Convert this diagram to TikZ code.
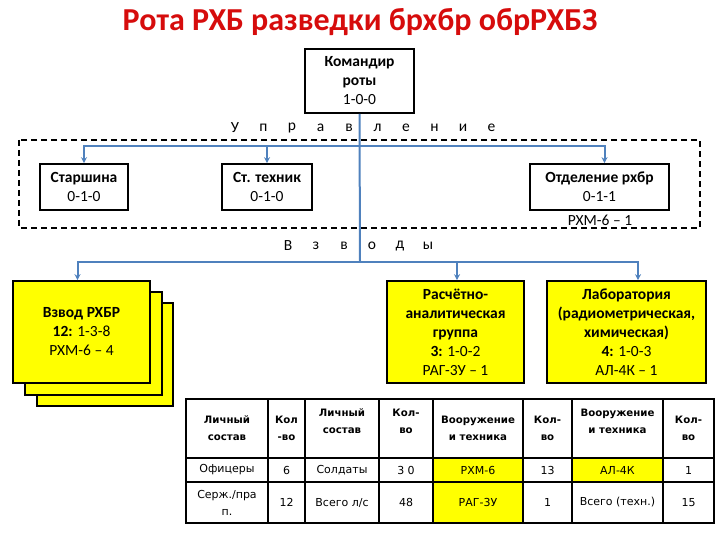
\documentclass[tikz,border=0pt]{standalone}
\usepackage{fontspec}
\setmainfont{Carlito}
\newfontfamily\tabfont{DejaVu Sans}
\usepackage{xcolor}
\usepackage{tikz}
\usetikzlibrary{arrows.meta}

\definecolor{linkblue}{RGB}{79,129,189}
\definecolor{titlered}{RGB}{214,12,12}
\definecolor{boxyellow}{RGB}{255,255,0}

\tikzset{
  unitbox/.style={draw, line width=1.6pt, align=center, inner sep=0pt,
    font=\fontsize{15.5}{19}\selectfont},
  yellowbox/.style={unitbox, fill=boxyellow},
  link/.style={draw=linkblue, line width=2pt},
  linkarrow/.style={link, -{Stealth[length=6pt,width=6pt]}},
  spaced/.style={inner sep=0pt, font=\fontsize{15.5}{18}\selectfont},
  cell/.style={inner sep=0pt, align=center, font=\tabfont\fontsize{11}{17}\selectfont},
  headcell/.style={cell, font=\tabfont\bfseries\fontsize{10.2}{17}\selectfont}
}

\begin{document}
\begin{tikzpicture}[x=1pt,y=-1pt]
\useasboundingbox (0,0) rectangle (720,540);

% title
\node[text=titlered, font=\fontsize{32}{36}\selectfont\bfseries] (title) at (360,22) {Рота РХБ разведки брхбр обрРХБЗ};

% commander
\node[unitbox, minimum width=109pt, minimum height=64pt] (komandir) at (359.5,81)
  {\textbf{Командир}\\\textbf{роты}\\1-0-0};

% Управление
\foreach \l [count=\i from 0] in {У,п,р,а,в,л,е,н,и,е}
  \node[spaced] (upr-\i) at (235+28.5*\i,128) {\l};
\draw[line width=1.6pt, dash pattern=on 6pt off 4pt] (19,140) rectangle (700,228);

\node[unitbox, minimum width=88pt, minimum height=46pt] (starshina) at (84,187)
  {\textbf{Старшина}\\0-1-0};
\node[unitbox, minimum width=90pt, minimum height=46pt] (tehnik) at (267,187)
  {\textbf{Ст. техник}\\0-1-0};
\node[unitbox, minimum width=139pt, minimum height=46pt] (otdelenie) at (599.5,187)
  {\textbf{Отделение рхбр}\\0-1-1};
\node[spaced] (otd-rhm) at (600,220) {РХМ-6 – 1};

% Взводы
\foreach \l [count=\i from 0] in {В,з,в,о,д,ы}
  \node[spaced] (vzv-\i) at (288+28*\i,246) {\l};

% yellow units
\draw[line width=1.6pt, fill=boxyellow] (37,303) rectangle (173,406);
\draw[line width=1.6pt, fill=boxyellow] (25,292) rectangle (162,395);
\node[yellowbox, minimum width=137pt, minimum height=102pt] (vzvod) at (81.5,332)
  {\textbf{Взвод РХБР}\\\textbf{12:} 1-3-8\\РХМ-6 – 4};
\node[yellowbox, minimum width=137pt, minimum height=102pt] (rag) at (455.5,332)
  {\textbf{Расчётно-}\\\textbf{аналитическая}\\\textbf{группа}\\\textbf{3:} 1-0-2\\РАГ-3У – 1};
\node[yellowbox, minimum width=159pt, minimum height=102pt] (lab) at (626.5,332)
  {\textbf{Лаборатория}\\\textbf{(радиометрическая,}\\\textbf{химическая)}\\\textbf{4:} 1-0-3\\АЛ-4К – 1};

% links
\coordinate (upr) at (360,146);
\coordinate (vzv) at (360,262);
\draw[link] (komandir.south) -- (vzv);
\draw[linkarrow] (upr) -| (starshina.north);
\draw[linkarrow] (upr) -| (tehnik.north);
\draw[linkarrow] (upr) -| ([xshift=5pt]otdelenie.north);
\draw[linkarrow] (vzv) -| ([xshift=-4pt]vzvod.north);
\draw[linkarrow] (vzv) -| ([xshift=1.5pt]rag.north);
\draw[linkarrow] (vzv) -| ([xshift=11.5pt]lab.north);

% table
\fill[boxyellow] (433,458) rectangle (523,523);
\fill[boxyellow] (572,458) rectangle (663,482);
\foreach \x in {268,305,379,433,523,572,663}
  \draw[line width=1.5pt] (\x,399) -- (\x,523);
\foreach \y in {458,482}
  \draw[line width=1.5pt] (186,\y) -- (714,\y);
\draw[line width=1.6pt] (186,399) rectangle (714,523);

\node[headcell] (h1) at (227,428.5) {Личный\\состав};
\node[headcell] (h2) at (286.5,428.5) {Кол\\-во};
\node[headcell] (h3) at (342,421) {Личный\\состав};
\node[headcell] (h4) at (406,421) {Кол-\\во};
\node[headcell] (h5) at (478,428.5) {Вооружение\\и техника};
\node[headcell] (h6) at (547.5,428.5) {Кол-\\во};
\node[headcell] (h7) at (617.5,421) {Вооружение\\и техника};
\node[headcell] (h8) at (688.5,428.5) {Кол-\\во};

\node[cell] (a1) at (227,470) {Офицеры};
\node[cell] (a2) at (286.5,470) {6};
\node[cell] (a3) at (342,470) {Солдаты};
\node[cell] (a4) at (406,470) {3 0};
\node[cell] (a5) at (478,470) {РХМ-6};
\node[cell] (a6) at (547.5,470) {13};
\node[cell] (a7) at (617.5,470) {АЛ-4К};
\node[cell] (a8) at (688.5,470) {1};

\node[cell] (b1) at (227,502.5) {Серж./пра\\п.};
\node[cell] (b2) at (286.5,502.5) {12};
\node[cell] (b3) at (342,502.5) {Всего л/с};
\node[cell] (b4) at (406,502.5) {48};
\node[cell] (b5) at (478,502.5) {РАГ-3У};
\node[cell] (b6) at (547.5,502.5) {1};
\node[cell] (b7) at (617.5,502.5) {Всего (техн.)};
\node[cell] (b8) at (688.5,502.5) {15};

\end{tikzpicture}
\end{document}
